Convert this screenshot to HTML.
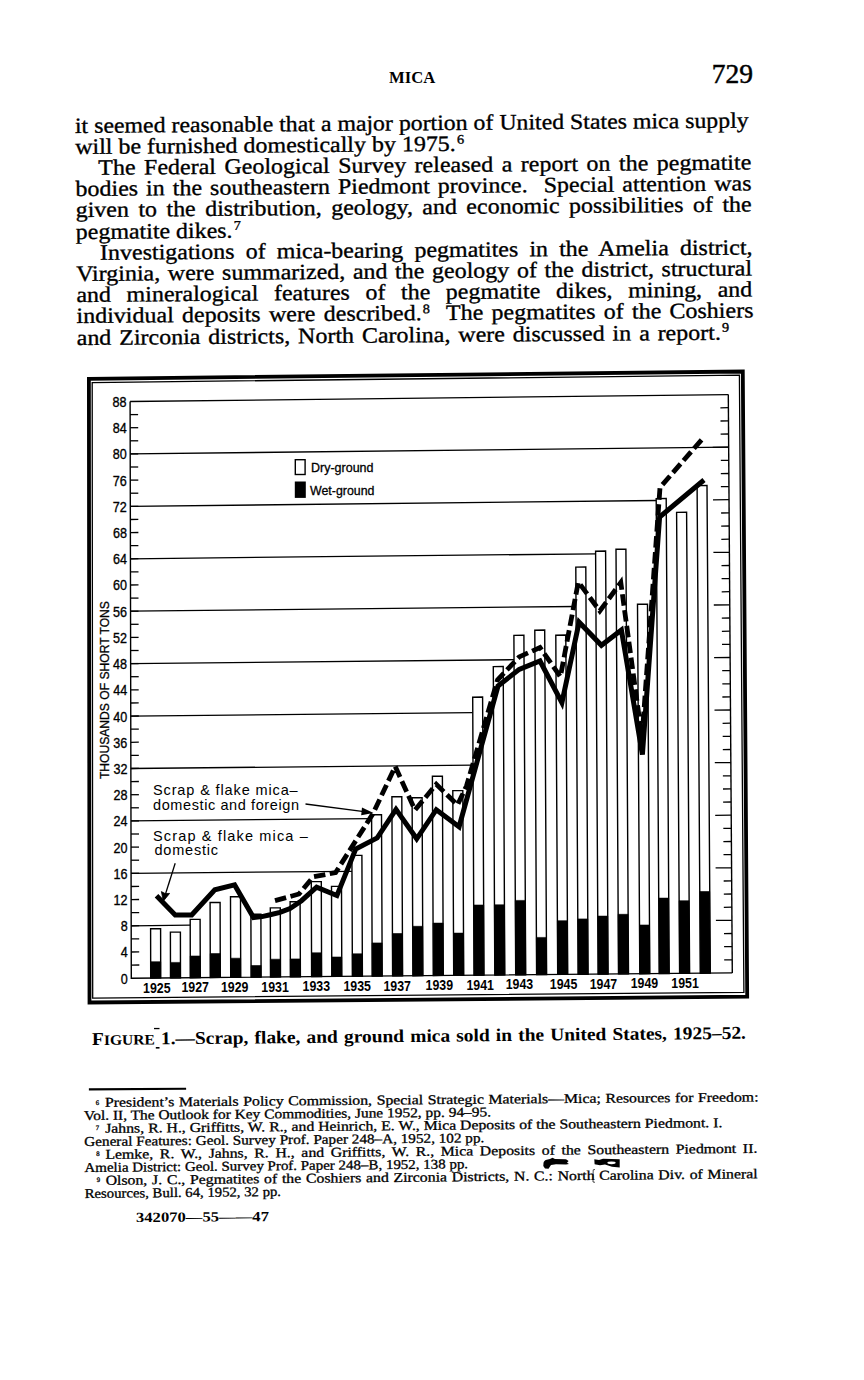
<!DOCTYPE html>
<html><head><meta charset="utf-8"><style>
*{margin:0;padding:0}
html,body{width:864px;height:1380px;background:#fff;overflow:hidden;position:relative}
.blk{position:absolute;transform-origin:0 0;font-family:"Liberation Serif",serif;color:#000}
.tl{position:absolute;white-space:nowrap;line-height:0;height:0;transform-origin:0 0}
sup{font-size:0.6em;vertical-align:0;position:relative;top:-0.55em;margin-left:0.08em}
.sc{font-size:0.8em}
svg{position:absolute;left:0;top:0}
.g{stroke:#000;stroke-width:1.3}
.ax{stroke:#000;stroke-width:1.4;fill:none}
.t{stroke:#000;stroke-width:1.3}
.bar{fill:#fff;stroke:#000;stroke-width:1.4}
.bk{fill:#000;stroke:#000;stroke-width:0.6}
.yl,.xl,.lg,.an,.yt{font-family:"Liberation Sans",sans-serif;fill:#000}
.yl{font-size:15px;stroke:#000;stroke-width:0.35}
.xl{font-size:14.5px;font-weight:bold}
.lg{font-size:12.5px;stroke:#000;stroke-width:0.3}
.an{font-size:14.5px}
.yt{font-size:13px;stroke:#000;stroke-width:0.3}
.sol{fill:none;stroke:#000;stroke-width:5;stroke-linejoin:miter;stroke-miterlimit:6}
.dsh{fill:none;stroke:#000;stroke-width:4.8;stroke-dasharray:11.5 4.5;stroke-linejoin:miter}
</style></head><body>
<div style="position:absolute;left:389px;top:76.9px;height:0;line-height:0;font-family:'Liberation Serif',serif;font-weight:bold;font-size:17.5px;transform:scaleX(0.95);transform-origin:0 0">MICA</div>
<div style="position:absolute;left:711.8px;top:74.3px;height:0;line-height:0;font-family:'Liberation Serif',serif;font-size:27.5px;-webkit-text-stroke:0.5px #000;transform-origin:0 0">729</div>
<div class="blk" style="left:75.0px;top:132.9px;transform:rotate(-0.47deg);font-size:22px;font-weight:normal;-webkit-text-stroke:0.35px #000;"><div class="tl" style="left:0.0px;top:-7.4px;transform:scaleX(1.0821)">it seemed reasonable that a major portion of United States mica supply</div>
<div class="tl" style="left:0.0px;top:13.8px;transform:scaleX(1.0892)">will be furnished domestically by 1975.<sup>6</sup></div>
<div class="tl" style="left:23.0px;top:35.0px;word-spacing:2.29px;transform:scaleX(1.0900)">The Federal Geological Survey released a report on the pegmatite</div>
<div class="tl" style="left:0.0px;top:56.2px;word-spacing:1.84px;transform:scaleX(1.0900)">bodies in the southeastern Piedmont province.&nbsp; Special attention was</div>
<div class="tl" style="left:0.0px;top:77.4px;word-spacing:3.15px;transform:scaleX(1.0900)">given to the distribution, geology, and economic possibilities of the</div>
<div class="tl" style="left:0.0px;top:98.6px;transform:scaleX(1.0868)">pegmatite dikes.<sup>7</sup></div>
<div class="tl" style="left:23.5px;top:119.8px;word-spacing:4.70px;transform:scaleX(1.0900)">Investigations of mica-bearing pegmatites in the Amelia district,</div>
<div class="tl" style="left:0.0px;top:141.0px;word-spacing:1.49px;transform:scaleX(1.0900)">Virginia, were summarized, and the geology of the district, structural</div>
<div class="tl" style="left:0.0px;top:162.2px;word-spacing:8.79px;transform:scaleX(1.0900)">and mineralogical features of the pegmatite dikes, mining, and</div>
<div class="tl" style="left:0.0px;top:183.4px;word-spacing:2.08px;transform:scaleX(1.0900)">individual deposits were described.<sup>8</sup>&nbsp; The pegmatites of the Coshiers</div>
<div class="tl" style="left:0.0px;top:204.6px;word-spacing:1.72px;transform:scaleX(1.0900)">and Zirconia districts, North Carolina, were discussed in a report.<sup>9</sup></div></div>
<div class="blk" style="left:83.5px;top:1107.5px;transform:rotate(-0.47deg);font-size:13.5px;font-weight:normal;-webkit-text-stroke:0.3px #000;"><div class="tl" style="left:21.1px;top:-4.6px;word-spacing:0.58px;transform:scaleX(1.1700)">President’s Materials Policy Commission, Special Strategic Materials—Mica; Resources for Freedom:</div>
<div class="tl" style="left:0.0px;top:8.1px;transform:rotate(-0.030deg) scaleX(1.1417)">Vol. II, The Outlook for Key Commodities, June 1952, pp. 94–95.</div>
<div class="tl" style="left:21.0px;top:20.6px;transform:rotate(-0.060deg) scaleX(1.1679)">Jahns, R. H., Griffitts, W. R., and Heinrich, E. W., Mica Deposits of the Southeastern Piedmont. I.</div>
<div class="tl" style="left:0.0px;top:33.6px;transform:rotate(-0.060deg) scaleX(1.1254)">General Features: Geol. Survey Prof. Paper 248–A, 1952, 102 pp.</div>
<div class="tl" style="left:20.7px;top:47.0px;word-spacing:2.29px;transform:rotate(-0.060deg) scaleX(1.1700)">Lemke, R. W., Jahns, R. H., and Griffitts, W. R., Mica Deposits of the Southeastern Piedmont II.</div>
<div class="tl" style="left:0.0px;top:60.0px;transform:rotate(-0.080deg) scaleX(1.1072)">Amelia District: Geol. Survey Prof. Paper 248–B, 1952, 138 pp.</div>
<div class="tl" style="left:20.7px;top:72.6px;word-spacing:0.67px;transform:rotate(-0.110deg) scaleX(1.1700)">Olson, J. C., Pegmatites of the Coshiers and Zirconia Districts, N. C.: North Carolina Div. of Mineral</div>
<div class="tl" style="left:0.4px;top:85.9px;transform:rotate(-0.130deg) scaleX(1.0906)">Resources, Bull. 64, 1952, 32 pp.</div>
<div class="tl" style="left:11.9px;top:-5.3px;font-size:0.5em">6</div>
<div class="tl" style="left:11.5px;top:19.9px;font-size:0.5em">7</div>
<div class="tl" style="left:11.8px;top:46.3px;font-size:0.5em">8</div>
<div class="tl" style="left:12.2px;top:71.9px;font-size:0.5em">9</div></div>
<div class="blk" style="left:92.2px;top:1044.5px;transform:rotate(-0.55deg);font-size:18px;font-weight:bold;"><div class="tl" style="left:0.0px;top:-6.1px;word-spacing:1.15px;transform:scaleX(1.0800)">F<span class="sc">IGURE</span> 1.—Scrap, flake, and ground mica sold in the United States, 1925–52.</div></div>
<div class="blk" style="left:135.8px;top:1223.3px;transform:rotate(-0.4deg);font-size:14px;font-weight:bold;"><div class="tl" style="left:0.0px;top:-4.7px;transform:scaleX(1.1875)">342070—55——47</div></div>
<svg width="864" height="1380" viewBox="0 0 864 1380">
<polygon points="88.9,378.8 742.8,371.5 747.2,996.7 89.5,1002.5" fill="none" stroke="#000" stroke-width="3.8" stroke-linejoin="miter"/><polygon points="92.2,382.6 739.4,375.1 743.9,992.4 92.7,998.1" fill="none" stroke="#000" stroke-width="1.3"/>
<line x1="131.2" y1="925.8" x2="190.2" y2="925.2" class="g"/>
<line x1="131.1" y1="873.3" x2="352.0" y2="871.3" class="g"/>
<line x1="131.0" y1="820.9" x2="371.6" y2="818.6" class="g"/>
<line x1="130.9" y1="768.5" x2="473.0" y2="765.1" class="g"/>
<line x1="130.8" y1="716.1" x2="472.7" y2="712.6" class="g"/>
<line x1="130.6" y1="663.6" x2="514.1" y2="659.7" class="g"/>
<line x1="130.5" y1="611.2" x2="576.0" y2="606.5" class="g"/>
<line x1="130.4" y1="558.8" x2="595.6" y2="553.8" class="g"/>
<line x1="130.3" y1="506.4" x2="656.2" y2="500.5" class="g"/>
<line x1="130.2" y1="453.9" x2="728.7" y2="447.2" class="g"/>
<line x1="130.1" y1="401.5" x2="728.3" y2="394.6" class="g"/>
<polyline points="130.1,401.5 131.3,978.2 732.3,972.9" class="ax"/>
<line x1="732.3" y1="972.9" x2="728.3" y2="394.6" class="ax"/>
<line x1="131.3" y1="965.1" x2="139.3" y2="965.0" class="t"/>
<line x1="732.2" y1="959.8" x2="724.2" y2="959.9" class="t"/>
<line x1="131.2" y1="952.0" x2="139.2" y2="951.9" class="t"/>
<line x1="732.1" y1="946.6" x2="724.1" y2="946.7" class="t"/>
<line x1="131.2" y1="938.9" x2="139.2" y2="938.8" class="t"/>
<line x1="732.0" y1="933.5" x2="724.0" y2="933.6" class="t"/>
<line x1="131.2" y1="925.8" x2="139.2" y2="925.7" class="t"/>
<line x1="731.9" y1="920.3" x2="715.9" y2="920.4" class="t"/>
<line x1="131.2" y1="912.7" x2="139.2" y2="912.6" class="t"/>
<line x1="731.8" y1="907.2" x2="723.8" y2="907.3" class="t"/>
<line x1="131.1" y1="899.6" x2="139.1" y2="899.5" class="t"/>
<line x1="731.8" y1="894.0" x2="723.8" y2="894.1" class="t"/>
<line x1="131.1" y1="886.5" x2="139.1" y2="886.4" class="t"/>
<line x1="731.7" y1="880.9" x2="723.7" y2="881.0" class="t"/>
<line x1="131.1" y1="873.3" x2="139.1" y2="873.3" class="t"/>
<line x1="731.6" y1="867.8" x2="715.6" y2="867.9" class="t"/>
<line x1="131.1" y1="860.2" x2="139.1" y2="860.2" class="t"/>
<line x1="731.5" y1="854.6" x2="723.5" y2="854.7" class="t"/>
<line x1="131.0" y1="847.1" x2="139.0" y2="847.1" class="t"/>
<line x1="731.4" y1="841.5" x2="723.4" y2="841.6" class="t"/>
<line x1="131.0" y1="834.0" x2="139.0" y2="834.0" class="t"/>
<line x1="731.3" y1="828.3" x2="723.3" y2="828.4" class="t"/>
<line x1="131.0" y1="820.9" x2="139.0" y2="820.9" class="t"/>
<line x1="731.2" y1="815.2" x2="715.2" y2="815.3" class="t"/>
<line x1="130.9" y1="807.8" x2="138.9" y2="807.8" class="t"/>
<line x1="731.1" y1="802.0" x2="723.1" y2="802.1" class="t"/>
<line x1="130.9" y1="794.7" x2="138.9" y2="794.7" class="t"/>
<line x1="731.0" y1="788.9" x2="723.0" y2="789.0" class="t"/>
<line x1="130.9" y1="781.6" x2="138.9" y2="781.5" class="t"/>
<line x1="730.9" y1="775.8" x2="722.9" y2="775.9" class="t"/>
<line x1="130.9" y1="768.5" x2="138.9" y2="768.4" class="t"/>
<line x1="730.8" y1="762.6" x2="714.8" y2="762.7" class="t"/>
<line x1="130.8" y1="755.4" x2="138.8" y2="755.3" class="t"/>
<line x1="730.8" y1="749.5" x2="722.8" y2="749.6" class="t"/>
<line x1="130.8" y1="742.3" x2="138.8" y2="742.2" class="t"/>
<line x1="730.7" y1="736.3" x2="722.7" y2="736.4" class="t"/>
<line x1="130.8" y1="729.2" x2="138.8" y2="729.1" class="t"/>
<line x1="730.6" y1="723.2" x2="722.6" y2="723.3" class="t"/>
<line x1="130.8" y1="716.1" x2="138.8" y2="716.0" class="t"/>
<line x1="730.5" y1="710.0" x2="714.5" y2="710.1" class="t"/>
<line x1="130.7" y1="703.0" x2="138.7" y2="702.9" class="t"/>
<line x1="730.4" y1="696.9" x2="722.4" y2="697.0" class="t"/>
<line x1="130.7" y1="689.9" x2="138.7" y2="689.8" class="t"/>
<line x1="730.3" y1="683.8" x2="722.3" y2="683.9" class="t"/>
<line x1="130.7" y1="676.7" x2="138.7" y2="676.7" class="t"/>
<line x1="730.2" y1="670.6" x2="722.2" y2="670.7" class="t"/>
<line x1="130.6" y1="663.6" x2="138.6" y2="663.6" class="t"/>
<line x1="730.1" y1="657.5" x2="714.1" y2="657.6" class="t"/>
<line x1="130.6" y1="650.5" x2="138.6" y2="650.5" class="t"/>
<line x1="730.0" y1="644.3" x2="722.0" y2="644.4" class="t"/>
<line x1="130.6" y1="637.4" x2="138.6" y2="637.4" class="t"/>
<line x1="729.9" y1="631.2" x2="721.9" y2="631.3" class="t"/>
<line x1="130.6" y1="624.3" x2="138.6" y2="624.3" class="t"/>
<line x1="729.8" y1="618.0" x2="721.8" y2="618.1" class="t"/>
<line x1="130.5" y1="611.2" x2="138.5" y2="611.2" class="t"/>
<line x1="729.8" y1="604.9" x2="713.8" y2="605.0" class="t"/>
<line x1="130.5" y1="598.1" x2="138.5" y2="598.1" class="t"/>
<line x1="729.7" y1="591.7" x2="721.7" y2="591.8" class="t"/>
<line x1="130.5" y1="585.0" x2="138.5" y2="584.9" class="t"/>
<line x1="729.6" y1="578.6" x2="721.6" y2="578.7" class="t"/>
<line x1="130.5" y1="571.9" x2="138.5" y2="571.8" class="t"/>
<line x1="729.5" y1="565.5" x2="721.5" y2="565.6" class="t"/>
<line x1="130.4" y1="558.8" x2="138.4" y2="558.7" class="t"/>
<line x1="729.4" y1="552.3" x2="713.4" y2="552.4" class="t"/>
<line x1="130.4" y1="545.7" x2="138.4" y2="545.6" class="t"/>
<line x1="729.3" y1="539.2" x2="721.3" y2="539.3" class="t"/>
<line x1="130.4" y1="532.6" x2="138.4" y2="532.5" class="t"/>
<line x1="729.2" y1="526.0" x2="721.2" y2="526.1" class="t"/>
<line x1="130.3" y1="519.5" x2="138.3" y2="519.4" class="t"/>
<line x1="729.1" y1="512.9" x2="721.1" y2="513.0" class="t"/>
<line x1="130.3" y1="506.4" x2="138.3" y2="506.3" class="t"/>
<line x1="729.0" y1="499.7" x2="713.0" y2="499.8" class="t"/>
<line x1="130.3" y1="493.2" x2="138.3" y2="493.2" class="t"/>
<line x1="728.9" y1="486.6" x2="720.9" y2="486.7" class="t"/>
<line x1="130.3" y1="480.1" x2="138.3" y2="480.1" class="t"/>
<line x1="728.8" y1="473.5" x2="720.8" y2="473.6" class="t"/>
<line x1="130.2" y1="467.0" x2="138.2" y2="467.0" class="t"/>
<line x1="728.8" y1="460.3" x2="720.8" y2="460.4" class="t"/>
<line x1="130.2" y1="453.9" x2="138.2" y2="453.9" class="t"/>
<line x1="728.7" y1="447.2" x2="712.7" y2="447.3" class="t"/>
<line x1="130.2" y1="440.8" x2="138.2" y2="440.8" class="t"/>
<line x1="728.6" y1="434.0" x2="720.6" y2="434.1" class="t"/>
<line x1="130.2" y1="427.7" x2="138.2" y2="427.7" class="t"/>
<line x1="728.5" y1="420.9" x2="720.5" y2="421.0" class="t"/>
<line x1="130.1" y1="414.6" x2="138.1" y2="414.6" class="t"/>
<line x1="728.4" y1="407.7" x2="720.4" y2="407.8" class="t"/>
<polygon points="150.7,978.0 160.7,977.9 160.6,928.7 150.6,928.7" class="bar"/>
<polygon points="150.7,978.0 160.7,977.9 160.7,961.7 150.7,961.7" class="bk"/>
<polygon points="170.5,977.9 180.5,977.8 180.4,932.1 170.4,932.1" class="bar"/>
<polygon points="170.5,977.9 180.5,977.8 180.5,962.4 170.5,962.4" class="bk"/>
<polygon points="190.3,977.7 200.3,977.6 200.1,919.4 190.2,919.4" class="bar"/>
<polygon points="190.3,977.7 200.3,977.6 200.2,956.0 190.2,956.0" class="bk"/>
<polygon points="210.3,977.5 220.3,977.4 220.1,902.5 210.1,902.5" class="bar"/>
<polygon points="210.3,977.5 220.3,977.4 220.2,953.6 210.2,953.6" class="bk"/>
<polygon points="230.7,977.3 240.7,977.2 240.5,896.7 230.5,896.7" class="bar"/>
<polygon points="230.7,977.3 240.7,977.2 240.6,958.2 230.6,958.2" class="bk"/>
<polygon points="251.1,977.1 261.1,977.1 260.9,914.3 250.9,914.3" class="bar"/>
<polygon points="251.1,977.1 261.1,977.1 261.1,965.5 251.1,965.5" class="bk"/>
<polygon points="270.5,977.0 280.5,976.9 280.3,907.9 270.3,907.9" class="bar"/>
<polygon points="270.5,977.0 280.5,976.9 280.4,959.2 270.4,959.2" class="bk"/>
<polygon points="290.4,976.8 300.4,976.7 300.1,901.7 290.1,901.7" class="bar"/>
<polygon points="290.4,976.8 300.4,976.7 300.3,958.9 290.3,958.9" class="bk"/>
<polygon points="311.6,976.6 321.6,976.5 321.3,881.6 311.3,881.6" class="bar"/>
<polygon points="311.6,976.6 321.6,976.5 321.5,952.8 311.5,952.8" class="bk"/>
<polygon points="331.8,976.4 341.8,976.3 341.5,886.4 331.5,886.4" class="bar"/>
<polygon points="331.8,976.4 341.8,976.3 341.7,957.0 331.7,957.0" class="bk"/>
<polygon points="352.4,976.3 362.4,976.2 361.9,855.4 351.9,855.4" class="bar"/>
<polygon points="352.4,976.3 362.4,976.2 362.3,953.8 352.3,953.8" class="bk"/>
<polygon points="372.2,976.1 382.2,976.0 381.5,814.7 371.6,814.7" class="bar"/>
<polygon points="372.2,976.1 382.2,976.0 382.1,942.9 372.1,942.9" class="bk"/>
<polygon points="392.6,975.9 402.6,975.8 401.8,796.8 391.9,796.8" class="bar"/>
<polygon points="392.6,975.9 402.6,975.8 402.4,933.5 392.4,933.5" class="bk"/>
<polygon points="412.9,975.7 422.9,975.6 422.1,797.7 412.1,797.7" class="bar"/>
<polygon points="412.9,975.7 422.9,975.6 422.7,926.3 412.7,926.3" class="bk"/>
<polygon points="433.3,975.5 443.3,975.4 442.4,776.3 432.4,776.3" class="bar"/>
<polygon points="433.3,975.5 443.3,975.4 443.1,923.1 433.1,923.1" class="bk"/>
<polygon points="453.7,975.4 463.7,975.3 462.8,790.6 452.8,790.6" class="bar"/>
<polygon points="453.7,975.4 463.7,975.3 463.5,933.1 453.5,933.1" class="bk"/>
<polygon points="474.0,975.2 484.0,975.1 482.6,697.0 472.7,697.2" class="bar"/>
<polygon points="474.0,975.2 484.0,975.1 483.7,905.0 473.7,905.0" class="bk"/>
<polygon points="494.8,975.0 504.8,974.9 503.2,666.4 493.3,666.6" class="bar"/>
<polygon points="494.8,975.0 504.8,974.9 504.4,904.8 494.4,904.8" class="bk"/>
<polygon points="515.7,974.8 525.7,974.7 523.9,635.2 513.9,635.4" class="bar"/>
<polygon points="515.7,974.8 525.7,974.7 525.3,900.4 515.3,900.4" class="bk"/>
<polygon points="536.6,974.6 546.6,974.5 544.7,630.0 534.8,630.2" class="bar"/>
<polygon points="536.6,974.6 546.6,974.5 546.4,937.4 536.4,937.4" class="bk"/>
<polygon points="557.7,974.4 567.7,974.4 565.8,635.0 555.8,635.2" class="bar"/>
<polygon points="557.7,974.4 567.7,974.4 567.4,920.7 557.4,920.7" class="bk"/>
<polygon points="578.1,974.3 588.1,974.2 585.8,566.9 575.8,567.1" class="bar"/>
<polygon points="578.1,974.3 588.1,974.2 587.8,918.9 577.8,918.9" class="bk"/>
<polygon points="598.1,974.1 608.1,974.0 605.6,551.0 595.6,551.2" class="bar"/>
<polygon points="598.1,974.1 608.1,974.0 607.8,916.1 597.8,916.1" class="bk"/>
<polygon points="618.5,973.9 628.5,973.8 625.9,549.1 616.0,549.3" class="bar"/>
<polygon points="618.5,973.9 628.5,973.8 628.1,914.3 618.1,914.3" class="bk"/>
<polygon points="639.8,973.7 649.8,973.6 647.5,604.1 637.5,604.3" class="bar"/>
<polygon points="639.8,973.7 649.8,973.6 649.5,925.0 639.5,925.0" class="bk"/>
<polygon points="659.2,973.5 669.2,973.5 666.2,498.4 656.2,498.6" class="bar"/>
<polygon points="659.2,973.5 669.2,973.5 668.7,898.1 658.7,898.1" class="bk"/>
<polygon points="679.6,973.4 689.6,973.3 686.6,512.2 676.6,512.4" class="bar"/>
<polygon points="679.6,973.4 689.6,973.3 689.1,900.7 679.1,900.7" class="bk"/>
<polygon points="700.3,973.2 710.3,973.1 707.0,485.4 697.1,485.6" class="bar"/>
<polygon points="700.3,973.2 710.3,973.1 709.7,891.5 699.8,891.5" class="bk"/>
<text x="127.8" y="983.6" class="yl" text-anchor="end" textLength="7" lengthAdjust="spacingAndGlyphs">0</text>
<text x="127.7" y="957.4" class="yl" text-anchor="end" textLength="7" lengthAdjust="spacingAndGlyphs">4</text>
<text x="127.7" y="931.2" class="yl" text-anchor="end" textLength="7" lengthAdjust="spacingAndGlyphs">8</text>
<text x="127.6" y="905.0" class="yl" text-anchor="end" textLength="14" lengthAdjust="spacingAndGlyphs">12</text>
<text x="127.6" y="878.7" class="yl" text-anchor="end" textLength="14" lengthAdjust="spacingAndGlyphs">16</text>
<text x="127.5" y="852.5" class="yl" text-anchor="end" textLength="14" lengthAdjust="spacingAndGlyphs">20</text>
<text x="127.5" y="826.3" class="yl" text-anchor="end" textLength="14" lengthAdjust="spacingAndGlyphs">24</text>
<text x="127.4" y="800.1" class="yl" text-anchor="end" textLength="14" lengthAdjust="spacingAndGlyphs">28</text>
<text x="127.4" y="773.9" class="yl" text-anchor="end" textLength="14" lengthAdjust="spacingAndGlyphs">32</text>
<text x="127.3" y="747.7" class="yl" text-anchor="end" textLength="14" lengthAdjust="spacingAndGlyphs">36</text>
<text x="127.3" y="721.5" class="yl" text-anchor="end" textLength="14" lengthAdjust="spacingAndGlyphs">40</text>
<text x="127.2" y="695.2" class="yl" text-anchor="end" textLength="14" lengthAdjust="spacingAndGlyphs">44</text>
<text x="127.1" y="669.0" class="yl" text-anchor="end" textLength="14" lengthAdjust="spacingAndGlyphs">48</text>
<text x="127.1" y="642.8" class="yl" text-anchor="end" textLength="14" lengthAdjust="spacingAndGlyphs">52</text>
<text x="127.0" y="616.6" class="yl" text-anchor="end" textLength="14" lengthAdjust="spacingAndGlyphs">56</text>
<text x="127.0" y="590.4" class="yl" text-anchor="end" textLength="14" lengthAdjust="spacingAndGlyphs">60</text>
<text x="126.9" y="564.2" class="yl" text-anchor="end" textLength="14" lengthAdjust="spacingAndGlyphs">64</text>
<text x="126.9" y="538.0" class="yl" text-anchor="end" textLength="14" lengthAdjust="spacingAndGlyphs">68</text>
<text x="126.8" y="511.8" class="yl" text-anchor="end" textLength="14" lengthAdjust="spacingAndGlyphs">72</text>
<text x="126.8" y="485.5" class="yl" text-anchor="end" textLength="14" lengthAdjust="spacingAndGlyphs">76</text>
<text x="126.7" y="459.3" class="yl" text-anchor="end" textLength="14" lengthAdjust="spacingAndGlyphs">80</text>
<text x="126.7" y="433.1" class="yl" text-anchor="end" textLength="14" lengthAdjust="spacingAndGlyphs">84</text>
<text x="126.6" y="406.9" class="yl" text-anchor="end" textLength="14" lengthAdjust="spacingAndGlyphs">88</text>
<text x="143.1" y="992.6" class="xl" textLength="27.5" lengthAdjust="spacingAndGlyphs">1925</text>
<text x="181.4" y="992.2" class="xl" textLength="27.5" lengthAdjust="spacingAndGlyphs">1927</text>
<text x="221.0" y="991.9" class="xl" textLength="27.5" lengthAdjust="spacingAndGlyphs">1929</text>
<text x="261.3" y="991.5" class="xl" textLength="27.5" lengthAdjust="spacingAndGlyphs">1931</text>
<text x="302.6" y="991.2" class="xl" textLength="27.5" lengthAdjust="spacingAndGlyphs">1933</text>
<text x="343.5" y="990.8" class="xl" textLength="27.5" lengthAdjust="spacingAndGlyphs">1935</text>
<text x="383.5" y="990.5" class="xl" textLength="27.5" lengthAdjust="spacingAndGlyphs">1937</text>
<text x="425.6" y="990.1" class="xl" textLength="27.5" lengthAdjust="spacingAndGlyphs">1939</text>
<text x="466.5" y="989.7" class="xl" textLength="27.5" lengthAdjust="spacingAndGlyphs">1941</text>
<text x="505.7" y="989.4" class="xl" textLength="27.5" lengthAdjust="spacingAndGlyphs">1943</text>
<text x="549.8" y="989.0" class="xl" textLength="27.5" lengthAdjust="spacingAndGlyphs">1945</text>
<text x="589.7" y="988.6" class="xl" textLength="27.5" lengthAdjust="spacingAndGlyphs">1947</text>
<text x="630.7" y="988.3" class="xl" textLength="27.5" lengthAdjust="spacingAndGlyphs">1949</text>
<text x="671.3" y="987.9" class="xl" textLength="27.5" lengthAdjust="spacingAndGlyphs">1951</text>
<polyline points="156.5,895.8 175.2,915.0 191.7,915.0 214.8,889.7 234.6,884.9 253.5,917.6 262.0,916.6 270.2,914.8 280.0,912.4 290.0,908.5 301.5,900.7 316.6,887.2 336.9,895.6 355.7,849.0 377.2,837.9 396.0,809.4 416.7,838.8 436.3,809.7 459.1,826.7 498.0,686.0 519.2,669.4 540.0,661.0 561.9,702.7 579.1,622.2 601.4,645.3 621.4,630.1 642.4,754.5 659.6,517.0 704.0,480.0" class="sol"/>
<polyline points="275.0,900.6 292.0,896.0 299.0,894.0 313.3,876.8 335.6,872.6 373.0,813.6 395.2,766.5 415.0,810.0 436.3,784.3 457.5,805.0 466.5,786.0 497.5,680.0 519.2,656.9 540.0,647.5 560.4,676.7 578.3,582.0 599.8,611.0 620.8,582.5 642.0,738.0 660.0,487.5 704.0,437.0" class="dsh"/>

<rect x="295.3" y="459.7" width="9.8" height="14.8" fill="#fff" stroke="#000" stroke-width="1.4"/>
<rect x="294.8" y="481.5" width="11" height="16.4" fill="#000"/>
<text x="311" y="471.6" class="lg" textLength="62.5" lengthAdjust="spacingAndGlyphs">Dry-ground</text>
<text x="310" y="495.2" class="lg" textLength="64.4" lengthAdjust="spacingAndGlyphs">Wet-ground</text>
<text x="153" y="794.6" class="an" textLength="144.7" lengthAdjust="spacing">Scrap &amp; flake mica&#8211;</text>
<text x="153" y="810" class="an" textLength="146" lengthAdjust="spacing">domestic and foreign</text>
<text x="153" y="840.9" class="an" textLength="154.8" lengthAdjust="spacing">Scrap &amp; flake mica &#8211;</text>
<text x="154.5" y="855.4" class="an" textLength="63.5" lengthAdjust="spacing">domestic</text>
<line x1="305.5" y1="804" x2="364" y2="811.6" stroke="#000" stroke-width="1.3"/>
<polygon points="373.5,812.9 362,807.6 361.2,815.2" fill="#000"/>
<line x1="175.2" y1="863.3" x2="165.5" y2="894" stroke="#000" stroke-width="1.3"/>
<polygon points="163.3,901.2 161.4,891.6 165.2,893.6 169.6,893.4" fill="#000" stroke="#000" stroke-width="0.8" stroke-linejoin="miter"/>
<text transform="translate(108.8,779.1) rotate(-90)" class="yt" textLength="178" lengthAdjust="spacingAndGlyphs">THOUSANDS OF SHORT TONS</text>


<line x1="88.9" y1="1089.4" x2="186.1" y2="1088.7" stroke="#000" stroke-width="2.1"/>
<path d="M543.5,1163 C544,1160 547,1159.5 550,1159 L552.5,1157.8 L555,1159 L566,1159.3 L568.6,1161 L567,1162.8 L569,1164 L566,1164.6 L556,1164.2 L551,1165 L548.5,1168.8 L545,1168.4 L543.3,1166 Z" fill="#000"/>
<path d="M594.3,1159.3 L599,1160 L603,1158.8 L619.7,1159.2 L619.7,1167.4 L612,1166.8 L605,1164.5 L600,1165.3 L594.6,1164.2 Z" fill="#000"/>
<ellipse cx="611.5" cy="1162.8" rx="4.2" ry="1.4" fill="#fff"/>
<path d="M595,1169.5 L593.2,1169.8 L593,1182 L595,1182.3" fill="none" stroke="#000" stroke-width="0.7"/>
<rect x="154" y="1027.9" width="5.5" height="1.3" fill="#000"/>
<rect x="155.8" y="1047" width="3.7" height="1.6" fill="#000"/>

</svg>
</body></html>
